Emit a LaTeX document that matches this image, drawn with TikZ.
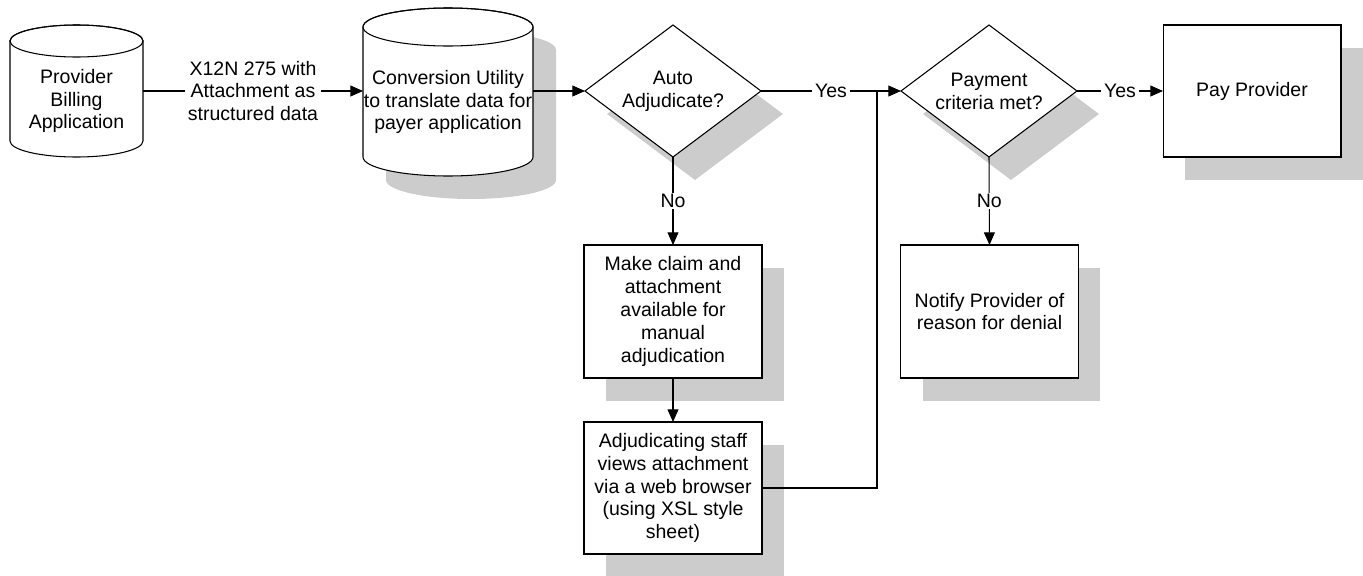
\documentclass[tikz,border=0pt]{standalone}
\usepackage{fontspec}
\setmainfont{Liberation Sans}
\usetikzlibrary{arrows.meta,shapes.geometric,shadows}
\definecolor{shadowgray}{RGB}{204,204,204}
\begin{document}
\begin{tikzpicture}[x=0.02cm,y=0.02cm,
  txt/.style={font=\fontsize{11.1}{13}\selectfont, align=center},
  line/.style={draw=black, line width=0.6pt},
  arr/.style={line, -{Triangle[length=7.2pt,width=6.2pt]}},
  shad/.style={drop shadow={shadow xshift=0.44cm,shadow yshift=-0.46cm,fill=shadowgray,opacity=1}},
  procbox/.style={txt, draw, line width=0.6pt, fill=white, rectangle, inner sep=0pt, outer sep=0pt, minimum width=3.56cm, minimum height=2.64cm, shad},
  decide/.style={txt, draw, line width=0.6pt, fill=white, diamond, aspect=1.333, inner sep=0pt, outer sep=0pt, minimum width=3.52cm, minimum height=2.64cm, shad},
  lbl/.style={txt, fill=white, inner xsep=1.5pt, inner ysep=0.5pt},
  body/.style={inner sep=0pt, outer sep=0pt}
]
\useasboundingbox (0,0) rectangle (1363,-575);

% Cylinder 1: Provider Billing Application
\path[line, fill=white] (10,-41) -- (10,-141)
  arc[start angle=180,end angle=360,x radius=66.5,y radius=16] -- (143,-41)
  arc[start angle=0,end angle=180,x radius=66.5,y radius=16] -- cycle;
\draw[line] (76.5,-41) ellipse[x radius=66.5,y radius=16];
\node[body, minimum width=2.66cm, minimum height=2.64cm] (cyl1) at (76.5,-91) {};
\node[txt] (cyl1t) at (76.5,-101) {Provider\\Billing\\Application};

% Cylinder 2: Conversion Utility (with shadow)
\path[fill=shadowgray, shift={(23,-23)}] (363,-27) -- (363,-157)
  arc[start angle=180,end angle=360,x radius=85,y radius=19] -- (533,-27)
  arc[start angle=0,end angle=180,x radius=85,y radius=19] -- cycle;
\path[line, fill=white] (363,-27) -- (363,-157)
  arc[start angle=180,end angle=360,x radius=85,y radius=19] -- (533,-27)
  arc[start angle=0,end angle=180,x radius=85,y radius=19] -- cycle;
\draw[line] (448,-27) ellipse[x radius=85,y radius=19];
\node[body, minimum width=3.4cm, minimum height=2.64cm] (cyl2) at (448,-91) {};
\node[txt] (cyl2t) at (448,-102) {Conversion Utility\\to translate data for\\payer application};

% Decisions
\node[decide] (d1) at (673,-91) {Auto\\Adjudicate?};
\node[decide] (d2) at (989,-91) {Payment\\criteria met?};

% Process boxes
\node[procbox] (pay) at (1252,-91) {Pay Provider};
\node[procbox, minimum height=2.66cm] (notify) at (989.5,-311.5) {Notify Provider of\\reason for denial};
\node[procbox, minimum height=2.66cm] (b3) at (673,-311.5) {Make claim and\\attachment\\available for\\manual\\adjudication};
\node[procbox] (b4) at (673,-488) {Adjudicating staff\\views attachment\\via a web browser\\(using XSL style\\sheet)};

\coordinate (jn) at (877,-91);

% Connectors
\draw[arr] (cyl1.east) -- node[lbl] {X12N 275 with\\Attachment as\\structured data} (cyl2.west);
\draw[arr] (cyl2.east) -- (d1.west);
\draw[arr] (d1.east) -- node[lbl] {Yes} (d2.west);
\draw[arr] (d1.south) -- node[lbl] {No} (b3.north);
\draw[arr] (b3.south) -- (b4.north);
\draw[line] (b4.east) -| (jn);
\draw[arr] (d2.east) -- node[lbl] {Yes} (pay.west);
\draw[arr] (d2.south) -- node[lbl] {No} (notify.north);
\end{tikzpicture}
\end{document}
